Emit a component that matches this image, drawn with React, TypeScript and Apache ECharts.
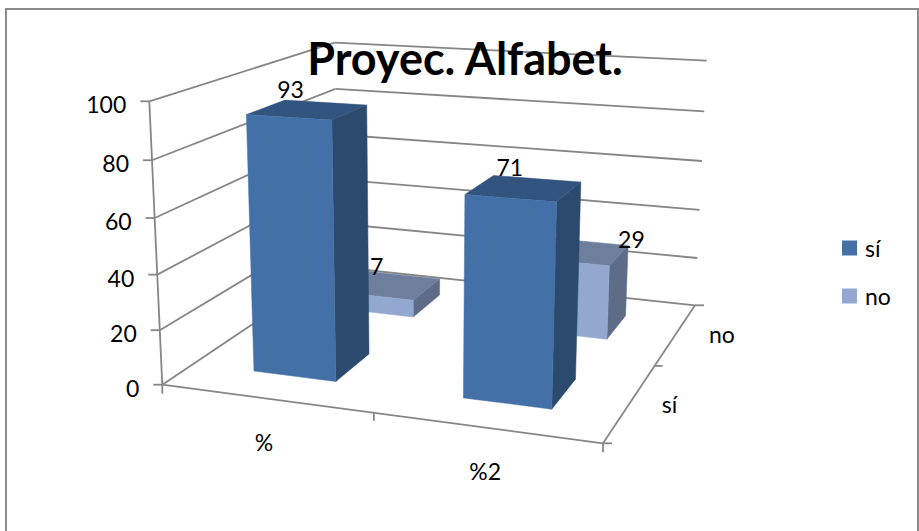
import React, { useEffect, useRef } from "react";
import * as echarts from "echarts";

const titleText = "Proyec. Alfabet.";
const categories = ["%", "%2"];
const depthNames = ["sí", "no"];
const siValues = [93, 71];
const noValues = [7, 29];
const yTicks = [0, 20, 40, 60, 80, 100];

type Pt = [number, number];
// Corners of the 3D box as seen on the page
const O: Pt = [162.3, 384.7];
const X: Pt = [603, 443.3];
const Z: Pt = [338, 267];
const XZ: Pt = [695, 305.3];
const Y: Pt = [149.3, 101.3];
const YZ: Pt = [334.5, 42.7];
const T: Pt = [706.7, 60.7];

function solve(A: Pt, B: Pt, D: Pt): [number, number] {
  const a = A[0] - D[0], b = B[0] - D[0], c = O[0] - D[0];
  const d = A[1] - D[1], e = B[1] - D[1], f = O[1] - D[1];
  const det = a * e - b * d;
  return [(c * e - b * f) / det, (a * f - c * d) / det];
}
const [wx, wz] = solve(X, Z, XZ);

// Floor point, homogeneous
function floor(x: number, z: number): [number, number, number] {
  return [
    O[0] + x * (wx * X[0] - O[0]) + z * (wz * Z[0] - O[0]),
    O[1] + x * (wx * X[1] - O[1]) + z * (wz * Z[1] - O[1]),
    1 + x * (wx - 1) + z * (wz - 1),
  ];
}
// Vanishing point of the vertical edges
const sL = (Y[0] - O[0]) / (Y[1] - O[1]);
const sR = (T[0] - XZ[0]) / (T[1] - XZ[1]);
const Vy = (XZ[0] - sR * XZ[1] - O[0] + sL * O[1]) / (sL - sR);
const Vx = O[0] + sL * (Vy - O[1]);
const kFor = (w: number, base: Pt, top: Pt) => {
  const r = (top[1] - base[1]) / (Vy - base[1]);
  return (w * r) / (1 - r);
};
const kO = kFor(1, O, Y);
const kB = kFor(floor(0, 1)[2], Z, YZ);
const kT = kFor(floor(1, 1)[2], XZ, T);

function P(x: number, y: number, z: number): Pt {
  const f = floor(x, z);
  const k = y * (kO + z * (kB - kO) + x * (kT - kB));
  const w = f[2] + k;
  return [(f[0] + k * Vx) / w, (f[1] + k * Vy) / w];
}

const FONT = '23px Lato, "Open Sans", sans-serif';
const LINE = "#868686";
const BAR_SHARE = 0.4;

const label = (text: string, x: number, y: number, align = "center") => ({
  type: "text",
  style: { text, x, y, fill: "#000", font: FONT, textAlign: align, textVerticalAlign: "middle" },
});
const seg = (a: Pt, b: Pt) => ({
  type: "line",
  shape: { x1: a[0], y1: a[1], x2: b[0], y2: b[1] },
  style: { stroke: LINE, lineWidth: 1.8, fill: "none" },
});
const normY = (params: any, api: any, v: number) => {
  const g = params.coordSys;
  return (g.y + g.height - api.coord([0, v])[1]) / g.height;
};

function barSeries(name: string, values: number[], zc: number, colors: string[], nudges: Pt[], z: number) {
  return {
    type: "custom",
    name,
    coordinateSystem: "cartesian2d",
    z,
    silent: true,
    itemStyle: { color: colors[0] },
    data: values.map((v, i) => [categories[i], v]),
    renderItem: (params: any, api: any) => {
      const g = params.coordSys;
      const c = api.coord([api.value(0), api.value(1)]);
      const xc = (c[0] - g.x) / g.width;
      const half = (api.size([1, 0])[0] * BAR_SHARE) / g.width / 2;
      const v = (g.y + g.height - c[1]) / g.height;
      const x0 = xc - half, x1 = xc + half, z0 = zc - 0.1, z1 = zc + 0.1;
      const poly = (pts: Pt[], fill: string) => ({
        type: "polygon",
        shape: { points: pts },
        style: { fill, stroke: fill, lineWidth: 0.5 },
      });
      const anchor = P(xc, v, z1);
      const nudge = nudges[params.dataIndex];
      return {
        type: "group",
        children: [
          poly([P(x1, 0, z0), P(x1, 0, z1), P(x1, v, z1), P(x1, v, z0)], colors[1]),
          poly([P(x0, v, z0), P(x1, v, z0), P(x1, v, z1), P(x0, v, z1)], colors[2]),
          poly([P(x0, 0, z0), P(x1, 0, z0), P(x1, v, z0), P(x0, v, z0)], colors[0]),
          label(String(values[params.dataIndex]), anchor[0] + nudge[0], anchor[1] + nudge[1]),
        ],
      };
    },
  };
}

export default function App() {
  const ref = useRef<HTMLDivElement>(null);
  useEffect(() => {
    const chart = echarts.init(ref.current!, undefined, { renderer: "svg" });
    chart.setOption({
      animation: false,
      title: {
        text: titleText,
        left: 460,
        top: 30,
        textAlign: "center",
        textStyle: { fontFamily: "Lato", fontWeight: "bold", fontSize: 45, color: "#000" },
      },
      legend: {
        data: depthNames,
        orient: "vertical",
        left: 842,
        top: 236,
        padding: 0,
        itemWidth: 15,
        itemHeight: 15,
        itemGap: 24,
        icon: "rect",
        selectedMode: false,
        textStyle: { fontFamily: "Lato", fontSize: 23, lineHeight: 24, color: "#000", padding: [0, 0, 0, 3] },
      },
      grid: { left: 100, top: 50, width: 600, height: 350 },
      xAxis: { type: "category", data: categories, show: false },
      yAxis: { type: "value", min: 0, max: 100, interval: 20, show: false },
      graphic: [
        {
          type: "rect",
          silent: true,
          shape: { x: 6, y: 9, width: 912, height: 540 },
          style: { fill: "none", stroke: "#8c8c8c", lineWidth: 2 },
        },
      ],
      series: [
        {
          type: "custom",
          name: "walls",
          coordinateSystem: "cartesian2d",
          z: 1,
          silent: true,
          data: yTicks.map((t) => [categories[0], t]),
          renderItem: (params: any, api: any) => {
            const t = yTicks[params.dataIndex];
            const v = normY(params, api, t);
            const a = P(0, v, 0), b = P(0, v, 1), c = P(1, v, 1);
            return {
              type: "group",
              children: [
                seg(a, b),
                seg(b, c),
                seg(a, [a[0] - 9, a[1]]),
                label(String(t), a[0] - 23, a[1] + 3, "right"),
              ],
            };
          },
        },
        {
          type: "custom",
          name: "floor",
          coordinateSystem: "cartesian2d",
          z: 1,
          silent: true,
          data: [[categories[0], 0]],
          renderItem: () => {
            const catA = P(0.25, 0, 0), catB = P(0.75, 0, 0);
            const dA = P(1, 0, 0.25), dB = P(1, 0, 0.75);
            return {
              type: "group",
              children: [
                seg(P(0, 0, 0), P(0, 1, 0)),
                seg(P(0, 0, 0), P(1, 0, 0)),
                seg(P(1, 0, 0), P(1, 0, 1)),
                seg(P(0, 0, 0), [P(0, 0, 0)[0], P(0, 0, 0)[1] + 9]),
                seg(P(0.5, 0, 0), [P(0.5, 0, 0)[0], P(0.5, 0, 0)[1] + 8]),
                seg(P(1, 0, 0), [P(1, 0, 0)[0], P(1, 0, 0)[1] + 9]),
                seg(P(1, 0, 0), [P(1, 0, 0)[0] + 9, P(1, 0, 0)[1]]),
                seg(P(1, 0, 0.5), [P(1, 0, 0.5)[0] + 8, P(1, 0, 0.5)[1]]),
                seg(P(1, 0, 1), [P(1, 0, 1)[0] + 9, P(1, 0, 1)[1]]),
                label(categories[0], catA[0] - 2, catA[1] + 44),
                label(categories[1], catB[0] - 1, catB[1] + 43),
                label(depthNames[0], dA[0] + 39, dA[1] + 2),
                label(depthNames[1], dB[0] + 46, dB[1] + 0),
              ],
            };
          },
        },
        barSeries("no", noValues, 0.75, ["#92A8D0", "#5E6C88", "#6E7F9E"], [[-27, -9], [42, -3]], 2),
        barSeries("sí", siValues, 0.25, ["#4470A8", "#2C4A6E", "#32557F"], [[-35, -14], [-27, -12]], 3),
      ],
    });
    return () => chart.dispose();
  }, []);
  return <div ref={ref} style={{ position: "absolute", left: 0, top: 0, width: 919, height: 531 }} />;
}
